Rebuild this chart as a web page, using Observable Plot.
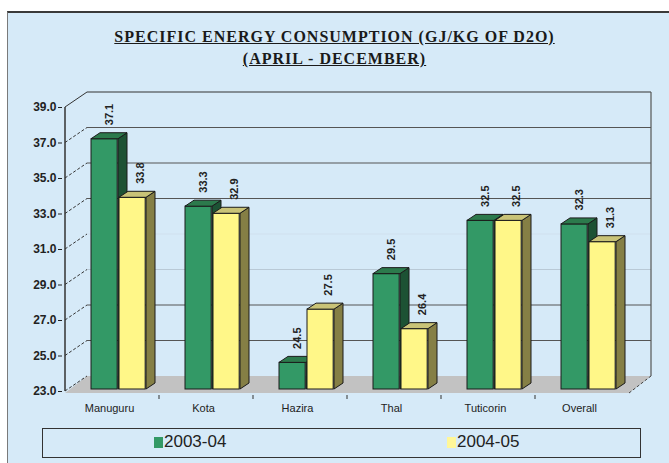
<!DOCTYPE html>
<html><head><meta charset="utf-8">
<script src="https://cdn.jsdelivr.net/npm/d3@7"></script>
<script src="https://cdn.jsdelivr.net/npm/@observablehq/plot@0.6"></script>
<style>
html,body{margin:0;padding:0;background:#fff;}
#page{position:relative;width:669px;height:463px;overflow:hidden;font-family:"Liberation Sans",Arial,sans-serif;}
#panel{position:absolute;left:7px;top:11px;width:700px;height:470px;background:#D6EAF8;border-top:2px solid #3a3a3a;border-left:1.5px solid #7a7a7a;box-sizing:border-box;}
.title{position:absolute;left:0;width:669px;text-align:center;font-family:"Liberation Serif","Times New Roman",serif;font-weight:bold;font-size:16px;line-height:18px;letter-spacing:1px;text-decoration:underline;color:#1a1a1a;white-space:nowrap;}
#chart{position:absolute;left:0;top:70px;}
#legend{position:absolute;left:42px;top:428px;width:599px;height:30px;border:1.5px solid #333;box-sizing:border-box;}
.sw{position:absolute;width:9px;height:11px;}
.lt{position:absolute;font-size:17px;line-height:18px;color:#222;}
</style>
</head>
<body>
<div id="page">
  <div id="panel"></div>
  <div class="title" style="top:28px">SPECIFIC ENERGY CONSUMPTION (GJ/KG OF D2O)</div>
  <div class="title" style="top:50px">(APRIL - DECEMBER)</div>
  <div id="chart"></div>
  <div id="legend"></div>
</div>
<script>
// ---- data ----
const sites = ["Manuguru", "Kota", "Hazira", "Thal", "Tuticorin", "Overall"];
const seriesNames = ["2003-04", "2004-05"];
const v0304 = [37.1, 33.3, 24.5, 29.5, 32.5, 32.3];
const v0405 = [33.8, 32.9, 27.5, 26.4, 32.5, 31.3];
const yTicks = [23, 25, 27, 29, 31, 33, 35, 37, 39];

// ---- styling constants ----
const W = 669, H = 350, ML = 62, MR = 38, MT = 37, MB = 29;
const BW = (W - ML - MR) / sites.length;
const BAR_W = 27, OFF = [26, 54], LIFT = -2;
const BDX = 9, BDY = -6;      // bar depth
const WDX = 22, WDY = -15;    // wall depth
const front = ["#339966", "#FFF788"];
const side = ["#1D5234", "#857F45"];
const top_ = ["#2C7A4C", "#C9C377"];
const legendFill = ["#339966", "#FFF799"];
const gridColor = {31: "#cfe0ee", 29: "#b9c9d6"};

const rows = [v0304, v0405].map(vals => sites.map((s, i) => ({site: s, value: vals[i]})));
const yMin = yTicks[0], yMax = yTicks[yTicks.length - 1];

function getScales(s) {
  const xs = s.x, ys = s.y;
  const bw = typeof xs.bandwidth === "function" ? xs.bandwidth() : xs.bandwidth;
  return {xs, ys, bw};
}

const frame3d = (index, s) => {
  const {xs, ys, bw} = getScales(s);
  const x0 = xs(sites[0]), x1 = xs(sites[sites.length - 1]) + bw;
  const yb = ys(yMin), yt = ys(yMax);
  const g = d3.create("svg:g");
  g.append("polygon")
    .attr("points", [[x0, yb + 2], [x1, yb + 2], [x1 + WDX, yb + WDY], [x0 + WDX, yb + WDY]].join(" "))
    .attr("fill", "#C2C2C2");
  for (const t of yTicks) {
    if (t === yMin) continue;
    g.append("line")
      .attr("x1", x0 + WDX).attr("x2", x1 + WDX)
      .attr("y1", ys(t) + WDY).attr("y2", ys(t) + WDY)
      .attr("stroke", gridColor[t] || (t === yMax ? "#333" : "#555")).attr("stroke-width", 1.2);
  }
  g.append("line").attr("x1", x1 + WDX).attr("x2", x1 + WDX)
    .attr("y1", yt + WDY).attr("y2", yb + WDY).attr("stroke", "#555").attr("stroke-width", 1.2);
  for (const t of yTicks) {
    g.append("line")
      .attr("x1", x0).attr("y1", ys(t)).attr("x2", x0 + WDX).attr("y2", ys(t) + WDY)
      .attr("stroke", "#333").attr("stroke-width", 1)
      .attr("stroke-dasharray", t === yMax ? null : "3,2");
  }
  g.append("line")
    .attr("x1", x1).attr("y1", yb + 2).attr("x2", x1 + WDX).attr("y2", yb + WDY)
    .attr("stroke", "#444").attr("stroke-dasharray", "3,2");
  g.append("line").attr("x1", x0).attr("x2", x0).attr("y1", yt).attr("y2", yb)
    .attr("stroke", "#333").attr("stroke-width", 1.5);
  for (let i = 1; i < sites.length; i++) {
    const xx = xs(sites[i]);
    g.append("line").attr("x1", xx).attr("x2", xx).attr("y1", yb + 4).attr("y2", yb + 8)
      .attr("stroke", "#333");
  }
  return g.node();
};

const faces = (k) => (index, s) => {
  const {xs, ys} = getScales(s);
  const g = d3.create("svg:g").attr("stroke", "#1a1a1a").attr("stroke-width", 1).attr("stroke-linejoin", "round");
  for (const r of rows[k]) {
    const xl = xs(r.site) + OFF[k], xr = xl + BAR_W;
    const yT = ys(r.value) + LIFT, yB = ys(yMin) + LIFT;
    g.append("polygon").attr("fill", side[k])
      .attr("points", [[xr, yT], [xr + BDX, yT + BDY], [xr + BDX, yB + BDY], [xr, yB]].join(" "));
    g.append("polygon").attr("fill", top_[k])
      .attr("points", [[xl, yT], [xr, yT], [xr + BDX, yT + BDY], [xl + BDX, yT + BDY]].join(" "));
  }
  return g.node();
};

const bars = (k) => Plot.barY(rows[k], {
  x: "site", y1: yMin, y2: "value", fill: front[k], stroke: "#1a1a1a", strokeWidth: 1,
  insetLeft: OFF[k], insetRight: BW - OFF[k] - BAR_W, dy: LIFT
});

const labels = (k) => Plot.text(rows[k], {
  x: "site", y: "value", text: d => d.value.toFixed(1), rotate: -90, textAnchor: "start",
  dx: OFF[k] + BAR_W / 2 - BW / 2 + (k === 0 ? 5 : 8), dy: LIFT - 14,
  fontSize: 11, fontWeight: "bold", fill: "#222"
});

const chart = Plot.plot({
  width: W, height: H, marginTop: MT, marginBottom: MB, marginLeft: ML, marginRight: MR,
  style: {background: "none", fontFamily: "'Liberation Sans', Arial, sans-serif", color: "#222"},
  x: {type: "band", domain: sites, padding: 0, label: null},
  y: {domain: [yMin, yMax], label: null},
  marks: [
    frame3d,
    Plot.axisY({ticks: yTicks, tickFormat: d3.format(".1f"), tickSize: 4, tickPadding: 2, fontSize: 12, fontWeight: "bold", label: null}),
    Plot.axisX({tickSize: 0, tickPadding: 13, fontSize: 11, dx: -3, label: null}),
    bars(0), faces(0),
    bars(1), faces(1),
    labels(0), labels(1)
  ]
});
document.getElementById("chart").appendChild(chart);

const lg = document.getElementById("legend");
const swX = [111, 404];
seriesNames.forEach((name, k) => {
  const sw = document.createElement("div");
  sw.className = "sw"; sw.style.left = swX[k] + "px"; sw.style.top = "8px"; sw.style.background = legendFill[k];
  lg.appendChild(sw);
  const t = document.createElement("div");
  t.className = "lt"; t.style.left = (swX[k] + 10) + "px"; t.style.top = "4px"; t.textContent = name;
  lg.appendChild(t);
});
</script>
</body></html>
